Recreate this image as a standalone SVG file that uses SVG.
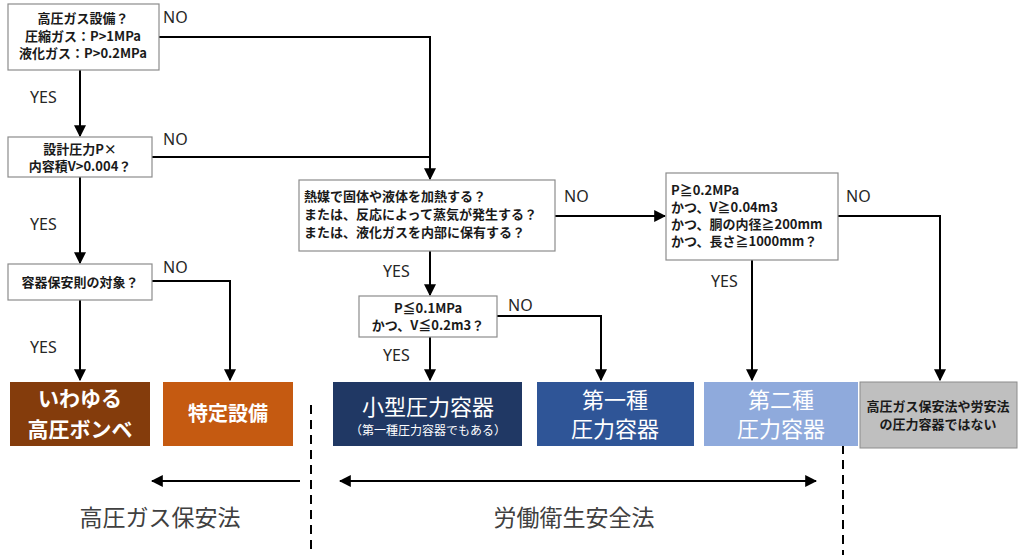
<svg xmlns="http://www.w3.org/2000/svg" width="1024" height="558" viewBox="0 0 1024 558">
<style>
.q{fill:#fff;stroke:#8c8c8c;stroke-width:1.2}
.t{font-family:"Noto Sans CJK JP","Noto Sans",sans-serif;font-weight:bold;font-size:13px;fill:#1a1a1a}
.l{font-family:"Noto Sans","Noto Sans CJK JP",sans-serif;font-size:16px;fill:#262626}
.c{fill:none;stroke:#000;stroke-width:2}
.w{font-family:"Noto Sans CJK JP",sans-serif;fill:#fff;text-anchor:middle}
.law{font-family:"Noto Sans CJK JP",sans-serif;font-size:23px;fill:#404040;text-anchor:middle}
</style>
<defs>
<marker id="a" viewBox="0 0 10 10" refX="9" refY="5" markerWidth="6" markerHeight="6" orient="auto-start-reverse"><path d="M0,0L10,5L0,10z" fill="#000"/></marker>
</defs>
<rect width="1024" height="558" fill="#fff"/>
<g id="connectors">
<path class="c" d="M159,37H430V179" marker-end="url(#a)"/>
<path class="c" d="M152,157H430"/>
<path class="c" d="M80,70V136" marker-end="url(#a)"/>
<path class="c" d="M80,177V263" marker-end="url(#a)"/>
<path class="c" d="M80,300V380" marker-end="url(#a)"/>
<path class="c" d="M152,281H230V380" marker-end="url(#a)"/>
<path class="c" d="M555,216H665" marker-end="url(#a)"/>
<path class="c" d="M838,216H940V380" marker-end="url(#a)"/>
<path class="c" d="M430,251V295" marker-end="url(#a)"/>
<path class="c" d="M430,337V380" marker-end="url(#a)"/>
<path class="c" d="M497,316H601V380" marker-end="url(#a)"/>
<path class="c" d="M752,260V380" marker-end="url(#a)"/>
<path class="c" d="M300,481H152" marker-end="url(#a)"/>
<path class="c" d="M340,481H816" marker-start="url(#a)" marker-end="url(#a)"/>
<path d="M311,405V555M843,400V555" stroke="#000" stroke-width="2" stroke-dasharray="9,6"/>
<text class="l" x="163" y="23">NO</text>
<text class="l" x="163" y="145">NO</text>
<text class="l" x="163" y="273">NO</text>
<text class="l" x="30" y="103">YES</text>
<text class="l" x="30" y="230">YES</text>
<text class="l" x="30" y="353">YES</text>
<text class="l" x="564" y="202">NO</text>
<text class="l" x="846" y="202">NO</text>
<text class="l" x="383" y="277">YES</text>
<text class="l" x="383" y="361">YES</text>
<text class="l" x="508" y="311">NO</text>
<text class="l" x="711" y="287">YES</text>
</g>
<g id="n1"><rect class="q" x="8" y="4" width="151" height="66"/>
<text class="t" text-anchor="middle"><tspan x="83" y="23">高圧ガス設備？</tspan><tspan x="83" y="41">圧縮ガス：P&gt;1MPa</tspan><tspan x="83" y="58">液化ガス：P&gt;0.2MPa</tspan></text></g>
<g id="n2"><rect class="q" x="8" y="137" width="144" height="40"/>
<text class="t" text-anchor="middle"><tspan x="80" y="154">設計圧力P×</tspan><tspan x="80" y="171">内容積V&gt;0.004？</tspan></text></g>
<g id="n3"><rect class="q" x="8" y="264" width="144" height="36"/>
<text class="t" text-anchor="middle" x="80" y="287">容器保安則の対象？</text></g>
<g id="n4"><rect class="q" x="299" y="180" width="256" height="71"/>
<text class="t"><tspan x="304" y="201">熱媒で固体や液体を加熱する？</tspan><tspan x="304" y="219">または、反応によって蒸気が発生する？</tspan><tspan x="304" y="237">または、液化ガスを内部に保有する？</tspan></text></g>
<g id="n5"><rect class="q" x="666" y="173" width="172" height="87"/>
<text class="t"><tspan x="671" y="195">P≧0.2MPa</tspan><tspan x="671" y="212">かつ、V≧0.04m3</tspan><tspan x="671" y="229">かつ、胴の内径≧200mm</tspan><tspan x="671" y="246">かつ、長さ≧1000mm？</tspan></text></g>
<g id="n6"><rect class="q" x="359" y="296" width="138" height="41"/>
<text class="t" text-anchor="middle"><tspan x="428" y="313">P≦0.1MPa</tspan><tspan x="428" y="330">かつ、V≦0.2m3？</tspan></text></g>
<g id="b1"><rect x="10" y="382" width="140" height="64" fill="#843C0C"/>
<text class="w" font-size="21" font-weight="bold"><tspan x="80" y="406">いわゆる</tspan><tspan x="80" y="437">高圧ボンベ</tspan></text></g>
<g id="b2"><rect x="163" y="382" width="130" height="64" fill="#C55A11"/>
<text class="w" font-size="20" font-weight="bold" x="228" y="421">特定設備</text></g>
<g id="b3"><rect x="333" y="382" width="189" height="64" fill="#203864"/>
<text class="w" font-size="22" x="428" y="415">小型圧力容器</text>
<text class="w" font-size="12" x="428" y="435" fill="#d9d9d9">（第一種圧力容器でもある）</text></g>
<g id="b4"><rect x="537" y="382" width="157" height="64" fill="#2F5597"/>
<text class="w" font-size="22"><tspan x="615" y="408">第一種</tspan><tspan x="615" y="437">圧力容器</tspan></text></g>
<g id="b5"><rect x="704" y="382" width="154" height="64" fill="#8FAADC"/>
<text class="w" font-size="22"><tspan x="781" y="408">第二種</tspan><tspan x="781" y="437">圧力容器</tspan></text></g>
<g id="b6"><rect x="860" y="382" width="157" height="66" fill="#BFBFBF" stroke="#8c8c8c"/>
<text class="t" text-anchor="middle" font-size="12.5"><tspan x="938" y="411">高圧ガス保安法や労安法</tspan><tspan x="938" y="429">の圧力容器ではない</tspan></text></g>
<text class="law" x="160" y="526">高圧ガス保安法</text>
<text class="law" x="574" y="526">労働衛生安全法</text>
</svg>
